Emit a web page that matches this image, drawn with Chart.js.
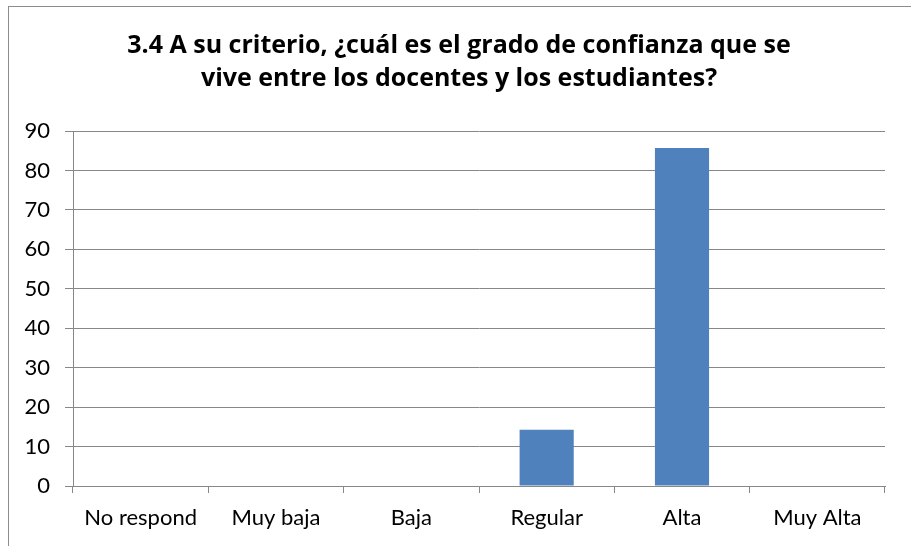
<!DOCTYPE html>
<html>
<head>
<meta charset="utf-8">
<style>
  html, body { margin: 0; padding: 0; background: #ffffff; }
  #wrap { width: 911px; height: 546px; position: relative; }
  canvas { display: block; }
</style>
<script src="https://cdn.jsdelivr.net/npm/chart.js@4.4.1/dist/chart.umd.min.js"></script>
</head>
<body>
<div id="wrap"><canvas id="chart" width="911" height="546"></canvas></div>
<script>
// Survey answers for question 3.4
const categories = ['No respond', 'Muy baja', 'Baja', 'Regular', 'Alta', 'Muy Alta'];
const percentages = [0, 0, 0, 14.29, 85.71, 0];
const titleLines = [
  '3.4 A su criterio, ¿cuál es el grado de confianza que se',
  'vive entre los docentes y los estudiantes?'
];
const yTicks = { min: 0, max: 90, step: 10 };

const TICK_FONT = 'Lato, "Open Sans", sans-serif';
const TITLE_FONT = '"Open Sans", Lato, sans-serif';
const GRID = '#888888';

// Thin frame around the whole chart object
const framePlugin = {
  id: 'frame',
  beforeDraw(chart) {
    const ctx = chart.ctx;
    ctx.save();
    ctx.fillStyle = '#ffffff';
    ctx.fillRect(0, 0, chart.width, chart.height);
    ctx.strokeStyle = '#8c8c8c';
    ctx.lineWidth = 1;
    ctx.strokeRect(8.5, 6.5, chart.width + 10, chart.height + 10);
    ctx.restore();
  }
};

new Chart(document.getElementById('chart'), {
  type: 'bar',
  data: {
    labels: categories,
    datasets: [{
      data: percentages,
      backgroundColor: '#4F81BD',
      borderWidth: 0,
      categoryPercentage: 1.0,
      barPercentage: 0.4,
      yAxisID: 'y'
    }]
  },
  options: {
    responsive: false,
    animation: false,
    layout: { padding: { left: 7, right: 0, top: 0, bottom: 0 } },
    plugins: {
      legend: { display: false },
      tooltip: { enabled: false },
      title: {
        display: true,
        text: titleLines,
        color: '#000000',
        font: { family: TITLE_FONT, size: 25, weight: 'bold', lineHeight: 1.32 },
        padding: { top: 29, bottom: 36 }
      }
    },
    scales: {
      x: {
        grid: {
          display: true,
          drawOnChartArea: false,
          drawTicks: true,
          tickLength: 7,
          color: GRID,
          offset: true
        },
        border: { display: true, color: GRID, width: 1 },
        ticks: {
          color: '#000000',
          font: { family: TICK_FONT, size: 22 },
          padding: 12,
          maxRotation: 0,
          autoSkip: false
        },
        afterFit(scale) { scale.height = 60; }
      },
      y: {
        min: yTicks.min,
        max: yTicks.max,
        grid: {
          color: GRID,
          tickLength: 8,
          drawTicks: true
        },
        border: { display: true, color: GRID, width: 1 },
        ticks: {
          stepSize: yTicks.step,
          color: '#000000',
          font: { family: TICK_FONT, size: 22 },
          padding: 15
        },
        afterFit(scale) { scale.width = 66; }
      },
      // empty right-hand margin axis (no ticks, no lines)
      yRight: {
        type: 'linear',
        position: 'right',
        min: yTicks.min,
        max: yTicks.max,
        grid: { display: false, drawTicks: false },
        border: { display: false },
        ticks: { display: false },
        afterFit(scale) { scale.width = 26; }
      }
    }
  },
  plugins: [framePlugin]
});
</script>
</body>
</html>
